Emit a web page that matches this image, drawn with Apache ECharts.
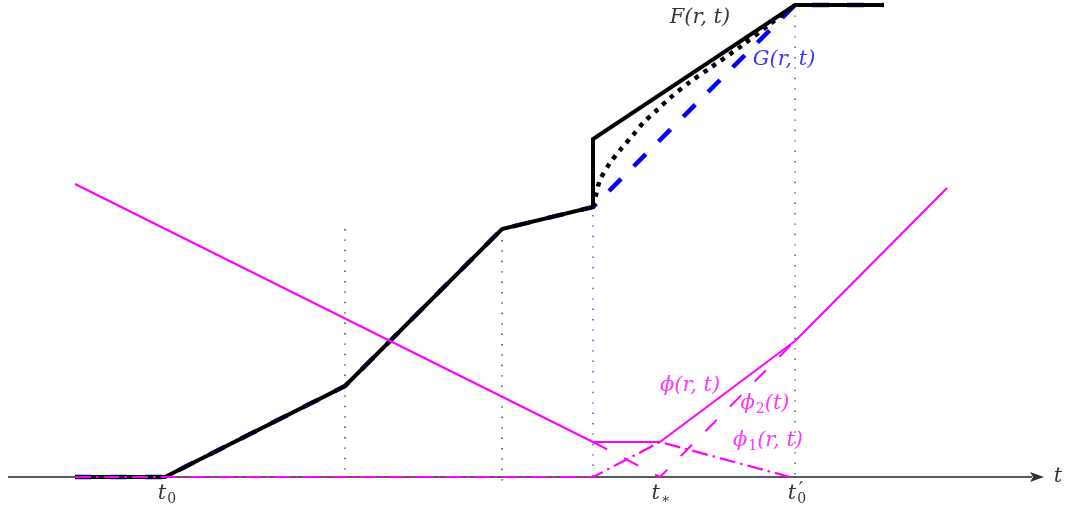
<!DOCTYPE html>
<html>
<head>
<meta charset="utf-8">
<script src="https://cdn.jsdelivr.net/npm/echarts@6/dist/echarts.min.js"></script>
<style>
  html, body { margin: 0; padding: 0; background: #fff; }
  #chart { width: 1065px; height: 510px; }
</style>
</head>
<body>
<div id="chart"></div>
<script>
// Time runs along x; y is the height above the t axis.
const fCurve   = [[75,0],[165,0],[345,91],[502,248],[593,270],[593,338],[795,472],[884,472]];
const gCurve   = [[75,0],[165,0],[345,91],[502,248],[593,270],[795,472],[884,472]];
const midCurve = [[593,270],[596,282],[600,297],[610,314],[621,328],[633,342],[644,355],
                  [657,367],[670,379],[690,395],[710,409],[740,430],[770,453],[795,472]];
const phiLine  = [[75,293],[593,35],[660,35],[795,136],[947,289]];
const phi1Line = [[75,0],[593,0],[660,35],[790,0]];
const phi2Line = [[593,35],[660,0],[795,136]];

// vertical guides: x, top, bottom
const guideX      = [345, 502, 593, 795];
const guideTop    = [248, 237, 262, 472];
const guideBottom = [0, -8, 0, 0];
const guideColor  = ['#333', '#333', '#3a3aff', '#555'];

// axis extent
const axisStart = 8, axisEnd = 1032, arrowTip = [1037, 0];

// text annotations
const noteText = ['F(r, t)', 'G(r, t)', 'ϕ(r, t)', 'ϕ2(t)', 'ϕ1(r, t)', 't0', 't*', 't0', '′', 't'];
const notePos  = [[700,459],[784,417],[690,91],[765,73],[768,36],[167,-17],[661,-17],[797,-17],[801,-14],[1058,0]];

const MAG = '#ff00ff';

function richFor(text) {
  // turn "ϕ2(t)" style strings into rich text with subscripts
  if (text === '′') return '{p|′}';
  const m = text.match(/^([^\d*]+?)([\d*])(.*)$/);
  if (!m) return '{i|' + text + '}';
  const sub = m[2] === '*' ? '∗' : m[2];
  return '{i|' + m[1] + '}{s|' + sub + '}' + (m[3] ? '{i|' + m[3] + '}' : '');
}

const noteColor = ['#000', '#0000ff', MAG, MAG, MAG, '#000', '#000', '#000', '#000', '#000'];

const richStyle = {
  i: { fontFamily: 'DejaVu Serif', fontStyle: 'italic', fontSize: 21, lineHeight: 24, verticalAlign: 'middle' },
  s: { fontFamily: 'DejaVu Serif', fontSize: 14, lineHeight: 14, verticalAlign: 'bottom', padding: [0, 0, 0, 1] },
  p: { fontFamily: 'DejaVu Serif', fontSize: 20, lineHeight: 20 }
};

const chart = echarts.init(document.getElementById('chart'), null, { renderer: 'canvas' });

const series = [];

// t axis
series.push({
  type: 'line', data: [[axisStart, 0], [axisEnd, 0]], symbol: 'none', silent: true,
  lineStyle: { color: '#222', width: 1.3 }
});
// arrow head on the t axis
series.push({
  type: 'scatter', data: [arrowTip], silent: true,
  symbol: 'path://M5,0 L10,14 L5,11 L0,14 Z', symbolSize: [10, 14], symbolRotate: -90,
  itemStyle: { color: '#000' }
});

// dotted vertical guides
guideX.forEach((x, k) => {
  series.push({
    type: 'line', data: [[x, guideTop[k]], [x, guideBottom[k]]],
    symbol: 'none', silent: true,
    lineStyle: { color: guideColor[k], width: 1.4, type: [1.4, 9] }
  });
});

// G (blue dashed) under F
series.push({
  type: 'line', data: gCurve, symbol: 'none', silent: true,
  lineStyle: { color: '#0000ff', width: 4.5, type: [17, 18], cap: 'butt' }
});
// F (thick black)
series.push({
  type: 'line', data: fCurve, symbol: 'none', silent: true,
  lineStyle: { color: '#000', width: 4, join: 'miter' }
});
// intermediate dotted curve
series.push({
  type: 'line', data: midCurve, symbol: 'none', silent: true, smooth: 0.3,
  lineStyle: { color: '#000', width: 4.5, type: [4.5, 6], cap: 'butt' }
});

// phi2 dashed
series.push({
  type: 'line', data: phi2Line, symbol: 'none', silent: true,
  lineStyle: { color: MAG, width: 2, type: [16, 19] }
});
// phi1 dash-dot
series.push({
  type: 'line', data: phi1Line, symbol: 'none', silent: true,
  lineStyle: { color: MAG, width: 2.2, type: [16, 5, 2.5, 5] }
});
// phi solid
series.push({
  type: 'line', data: phiLine, symbol: 'none', silent: true,
  lineStyle: { color: MAG, width: 2 }
});

// text annotations
series.push({
  type: 'scatter', symbolSize: 0, silent: true,
  data: noteText.map((t, k) => ({
    value: notePos[k],
    label: {
      show: true, position: 'inside', color: noteColor[k],
      formatter: richFor(t),
      rich: {
        i: Object.assign({}, richStyle.i, { color: noteColor[k] }),
        s: Object.assign({}, richStyle.s, { color: noteColor[k] }),
        p: Object.assign({}, richStyle.p, { color: noteColor[k] })
      }
    }
  }))
});

chart.setOption({
  animation: false,
  backgroundColor: '#fff',
  grid: { left: 0, right: 0, top: 0, bottom: 0 },
  xAxis: { type: 'value', min: 0, max: 1065, show: false },
  yAxis: { type: 'value', min: -33, max: 477, show: false },
  series: series
});
</script>
</body>
</html>
